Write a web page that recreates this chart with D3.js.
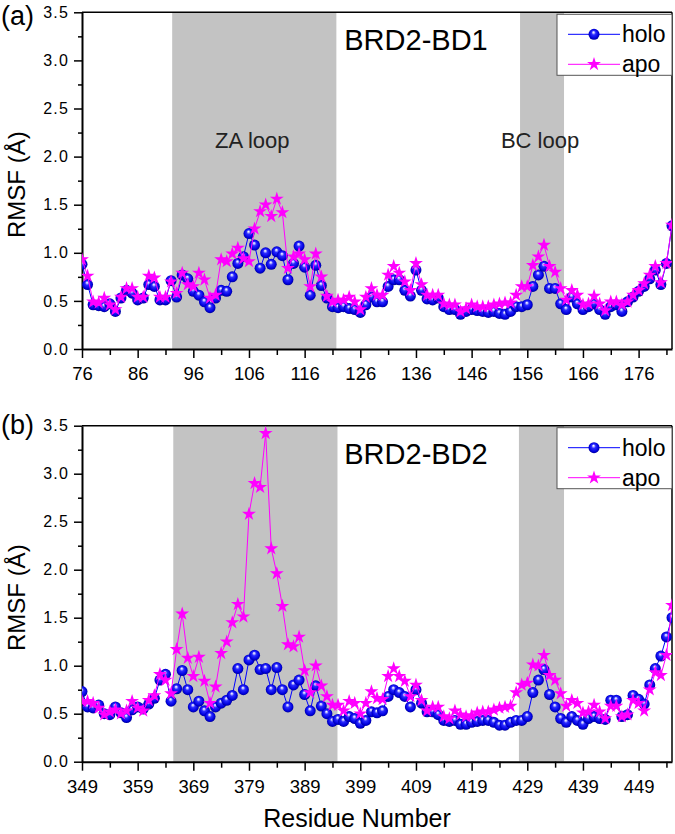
<!DOCTYPE html>
<html>
<head>
<meta charset="utf-8">
<script src="https://cdn.jsdelivr.net/npm/d3@7/dist/d3.min.js"></script>
<style>
html,body{margin:0;padding:0;background:#fff;}
svg{display:block;font-family:"Liberation Sans",Arial,sans-serif;}
</style>
</head>
<body>
<svg id="chart" width="675" height="834"></svg>
<script>
// ---------- data ----------
const startA = 76;
const holoA = [
0.88,0.67,0.46,0.45,0.44,0.47,0.39,0.53,0.61,0.58,
0.51,0.53,0.67,0.65,0.51,0.51,0.71,0.54,0.77,0.73,
0.60,0.56,0.49,0.43,0.53,0.61,0.60,0.75,0.89,0.96,
1.20,1.08,0.84,1.00,0.88,1.01,0.97,0.72,0.89,1.07,
0.85,0.56,0.87,0.66,0.53,0.44,0.43,0.44,0.42,0.41,
0.38,0.46,0.54,0.49,0.49,0.65,0.72,0.72,0.61,0.55,
0.82,0.61,0.52,0.51,0.53,0.44,0.41,0.41,0.36,0.39,
0.41,0.40,0.39,0.38,0.39,0.37,0.36,0.39,0.44,0.44,
0.46,0.65,0.77,0.86,0.63,0.63,0.47,0.41,0.54,0.47,
0.41,0.44,0.47,0.41,0.36,0.44,0.46,0.39,0.49,0.54,
0.60,0.65,0.73,0.82,0.67,0.89,1.28];
const apoA = [
0.93,0.76,0.49,0.48,0.53,0.46,0.41,0.54,0.63,0.63,
0.54,0.54,0.76,0.74,0.54,0.54,0.70,0.58,0.79,0.67,
0.65,0.79,0.72,0.53,0.56,0.93,0.91,0.99,1.05,0.94,
0.91,1.25,1.43,1.50,1.38,1.56,1.42,0.84,0.96,0.99,
0.93,0.65,0.99,0.75,0.55,0.49,0.51,0.51,0.54,0.49,
0.41,0.54,0.63,0.56,0.56,0.77,0.86,0.79,0.70,0.61,
0.89,0.67,0.56,0.56,0.56,0.47,0.46,0.46,0.39,0.42,
0.46,0.44,0.44,0.44,0.46,0.47,0.48,0.48,0.56,0.65,
0.65,0.87,0.96,1.08,0.86,0.80,0.63,0.51,0.61,0.56,
0.46,0.47,0.55,0.47,0.40,0.49,0.49,0.46,0.49,0.56,
0.61,0.68,0.77,0.86,0.69,0.89,1.29];

const startB = 349;
const holoB = [
0.73,0.57,0.56,0.59,0.50,0.49,0.57,0.51,0.46,0.54,
0.57,0.55,0.60,0.66,0.85,0.91,0.63,0.76,0.95,0.75,
0.57,0.63,0.53,0.47,0.57,0.61,0.64,0.69,0.97,0.75,
1.06,1.11,0.96,0.97,0.75,0.98,0.75,0.57,0.80,0.85,
0.70,0.53,0.79,0.58,0.50,0.42,0.44,0.42,0.47,0.45,
0.40,0.43,0.52,0.51,0.53,0.68,0.75,0.72,0.68,0.57,
0.75,0.61,0.52,0.52,0.49,0.43,0.42,0.43,0.39,0.39,
0.41,0.42,0.43,0.43,0.41,0.38,0.38,0.41,0.43,0.43,
0.47,0.72,0.85,0.96,0.70,0.57,0.45,0.41,0.47,0.43,
0.39,0.45,0.47,0.45,0.44,0.64,0.64,0.47,0.49,0.69,
0.65,0.60,0.80,0.97,1.10,1.30,1.50];
const apoB = [
0.63,0.63,0.61,0.56,0.49,0.52,0.54,0.50,0.53,0.63,
0.56,0.53,0.64,0.69,0.91,0.85,0.71,1.17,1.54,1.08,
0.89,1.09,0.84,0.61,0.78,1.13,1.25,1.45,1.64,1.51,
2.58,2.90,2.86,3.42,2.22,1.96,1.62,1.22,1.20,1.30,
0.95,0.72,1.00,0.79,0.68,0.59,0.59,0.53,0.63,0.61,
0.50,0.61,0.73,0.66,0.65,0.89,0.97,0.89,0.84,0.68,
0.80,0.64,0.53,0.57,0.57,0.47,0.45,0.53,0.49,0.47,
0.48,0.51,0.52,0.52,0.54,0.56,0.57,0.58,0.72,0.80,
0.82,1.01,1.00,1.11,0.90,0.85,0.71,0.58,0.64,0.61,
0.51,0.52,0.59,0.52,0.45,0.58,0.58,0.47,0.49,0.64,
0.61,0.53,0.75,0.93,0.90,1.11,1.63];

const domainA = [76, 182];
const domainB = [349, 455];
const loopsA = [[92.2, 121.7, "ZA loop"], [154.7, 162.6, "BC loop"]];
const loopsB = [[365.4, 394.9], [427.5, 435.6]];
const yTicks = [0, 0.5, 1.0, 1.5, 2.0, 2.5, 3.0, 3.5];
const seriesNames = ["holo", "apo"];

// ---------- drawing ----------
const svg = d3.select("#chart");
const defs = svg.append("defs");
const grad = defs.append("radialGradient").attr("id","ball")
  .attr("cx","0.5").attr("cy","0.5").attr("r","0.55").attr("fx","0.45").attr("fy","0.3");
[[0,"#ffffff"],[0.14,"#c0c0ff"],[0.35,"#2a2aff"],[0.75,"#0000dd"],[1,"#000080"]].forEach(s=>
  grad.append("stop").attr("offset",s[0]).attr("stop-color",s[1]));

const L = 82, R = 672;
const star = d3.symbol().type(d3.symbolStar).size(60);

function panel(cfg){
  const x = d3.scaleLinear().domain(cfg.domain).range([L, R]);
  const y = d3.scaleLinear().domain([0, 3.5]).range([cfg.bottom, cfg.top]);
  const g = svg.append("g");
  const clipId = "clip" + cfg.id;
  defs.append("clipPath").attr("id", clipId).append("rect")
    .attr("x", L).attr("y", cfg.top).attr("width", R - L).attr("height", cfg.bottom - cfg.top);

  // shaded loops
  g.selectAll("rect.loop").data(cfg.loops).enter().append("rect")
    .attr("x", d => x(d[0])).attr("width", d => x(d[1]) - x(d[0]))
    .attr("y", cfg.top).attr("height", cfg.bottom - cfg.top).attr("fill", "#c3c3c3");

  if (cfg.loopLabels) {
    g.selectAll("text.loop").data(cfg.loops).enter().append("text")
      .attr("x", d => (x(d[0]) + x(d[1])) / 2 - 2).attr("y", cfg.top + 136)
      .attr("text-anchor","middle").attr("font-size", 22).attr("fill","#222")
      .text(d => d[2]);
  }

  // title
  g.append("text").attr("x", 416).attr("y", cfg.top + 38).attr("text-anchor","middle")
    .attr("font-size", 29).attr("fill","#000").text(cfg.title);

  // axes
  const xTickVals = d3.range(cfg.domain[0], cfg.domain[1] + 0.01, 5);
  const xAxis = d3.axisBottom(x).tickValues(xTickVals)
    .tickFormat((d,i) => i % 2 === 0 ? d : "").tickSizeOuter(0);
  const gx = g.append("g").attr("transform", `translate(0,${cfg.bottom})`).call(xAxis);
  gx.selectAll(".tick line").attr("y2", (d,i) => i % 2 === 0 ? 9 : 6).attr("stroke-width", 1.5);
  gx.selectAll(".tick text").attr("font-size", 18.5).attr("dy", 0).attr("y", 31)
    .attr("font-family", '"Liberation Sans",Arial,sans-serif').attr("fill","#000");
  gx.select(".domain").attr("stroke-width", 2);

  const yTickVals = d3.range(0, 3.51, 0.25);
  const yAxis = d3.axisLeft(y).tickValues(yTickVals)
    .tickFormat(d => yTicks.some(t => Math.abs(t - d) < 1e-6) ? d3.format(".1f")(d) : "")
    .tickSizeOuter(0);
  const gy = g.append("g").attr("transform", `translate(${L},0)`).call(yAxis);
  gy.selectAll(".tick line").attr("x2", (d,i) => i % 2 === 0 ? -8 : -4).attr("stroke-width", 1.5);
  gy.selectAll(".tick text").attr("font-size", 16).attr("x", -13).attr("letter-spacing", "1.2px")
    .attr("font-family", '"Liberation Sans",Arial,sans-serif').attr("fill","#000");
  gy.select(".domain").attr("stroke-width", 2);

  // frame top/right
  g.append("line").attr("x1", L).attr("x2", R).attr("y1", cfg.top).attr("y2", cfg.top)
    .attr("stroke","#000").attr("stroke-width",1.5);
  g.append("line").attr("x1", R).attr("x2", R).attr("y1", cfg.top).attr("y2", cfg.bottom)
    .attr("stroke","#000").attr("stroke-width",1.5);

  // data
  const holo = cfg.holo.map((v,i) => [cfg.start + i, v]);
  const apo = cfg.apo.map((v,i) => [cfg.start + i, v]);
  const line = d3.line().x(d => x(d[0])).y(d => y(d[1]));
  const dg = g.append("g").attr("clip-path", `url(#${clipId})`);
  dg.append("path").datum(holo).attr("d", line).attr("fill","none").attr("stroke","#0000ff").attr("stroke-width",1);
  dg.selectAll("circle.holo").data(holo).enter().append("circle")
    .attr("cx", d => x(d[0])).attr("cy", d => y(d[1])).attr("r", 5.5).attr("fill","url(#ball)");
  dg.append("path").datum(apo).attr("d", line).attr("fill","none").attr("stroke","#ff00ff").attr("stroke-width",1);
  dg.selectAll("path.apo").data(apo).enter().append("path")
    .attr("d", star).attr("transform", d => `translate(${x(d[0])},${y(d[1])})`).attr("fill","#ff00ff");

  // legend
  const lg = g.append("g").attr("transform", `translate(${R - 115},${cfg.top + 2})`);
  lg.append("rect").attr("x",0).attr("y",0).attr("width",115).attr("height",61)
    .attr("fill","#fff").attr("stroke","#555").attr("stroke-width",1);
  seriesNames.forEach((name, i) => {
    const cy = 20 + i * 30;
    lg.append("line").attr("x1", 11).attr("x2", 63).attr("y1", cy).attr("y2", cy)
      .attr("stroke", i === 0 ? "#0000ff" : "#ff00ff").attr("stroke-width", 1);
    if (i === 0) lg.append("circle").attr("cx", 37).attr("cy", cy).attr("r", 5.5).attr("fill","url(#ball)");
    else lg.append("path").attr("d", star).attr("transform", `translate(37,${cy})`).attr("fill","#ff00ff");
    lg.append("text").attr("x", 65).attr("y", cy + 8).attr("font-size", 23).attr("fill","#000").text(name);
  });

  // panel label
  svg.append("text").attr("x", 1).attr("y", cfg.labelY).attr("font-size", 27).attr("fill","#000").text(cfg.label);

  // y label
  svg.append("text").attr("transform", `translate(25,${(cfg.top + cfg.bottom)/2 + 4}) rotate(-90)`)
    .attr("text-anchor","middle").attr("font-size", 24).attr("fill","#000").text("RMSF (Å)");
}

panel({id:"A", domain: domainA, start: startA, holo: holoA, apo: apoA, top: 12.3, bottom: 349,
  loops: loopsA, loopLabels: true, title: "BRD2-BD1", label: "(a)", labelY: 25});
panel({id:"B", domain: domainB, start: startB, holo: holoB, apo: apoB, top: 425.7, bottom: 761.7,
  loops: loopsB, loopLabels: false, title: "BRD2-BD2", label: "(b)", labelY: 434});

svg.append("text").attr("x", 357).attr("y", 827).attr("text-anchor","middle")
  .attr("font-size", 25).attr("fill","#000").text("Residue Number");
</script>
</body>
</html>
